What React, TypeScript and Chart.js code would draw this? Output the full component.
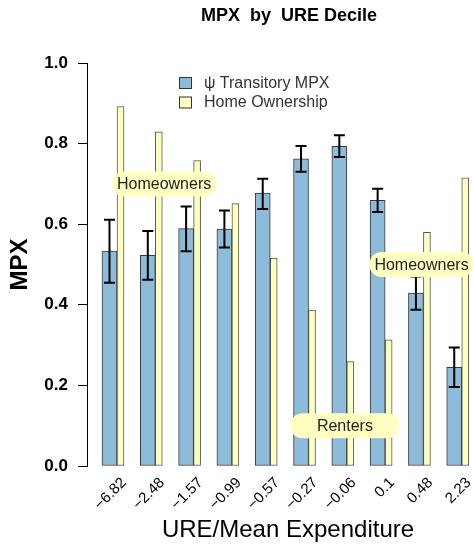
import React, { useEffect, useRef } from "react";
import { Chart, registerables } from "chart.js";

Chart.register(...registerables);

// ---------- data ----------
const categories = ["−6.82", "−2.48", "−1.57", "−0.99", "−0.57", "−0.27", "−0.06", "0.1", "0.48", "2.23"];
const mpxValues = [0.533, 0.523, 0.589, 0.588, 0.677, 0.762, 0.793, 0.659, 0.429, 0.245];
const mpxLower = [0.455, 0.462, 0.533, 0.542, 0.638, 0.730, 0.767, 0.630, 0.388, 0.196];
const mpxUpper = [0.611, 0.583, 0.644, 0.634, 0.713, 0.794, 0.821, 0.688, 0.470, 0.294];
const homeOwnership = [0.892, 0.829, 0.758, 0.651, 0.516, 0.387, 0.259, 0.313, 0.580, 0.715];
const yTicks = [0, 0.2, 0.4, 0.6, 0.8, 1.0];
const seriesNames = ["ψ Transitory MPX", "Home Ownership"];
const annotationTexts = ["Homeowners", "Homeowners", "Renters"];
// annotation anchors in data units (category index, MPX value)
const annotationX = [1.23, 7.95, 5.95];
const annotationY = [0.70, 0.50, 0.10];

const TITLE = "MPX  by  URE Decile";
const X_TITLE = "URE/Mean Expenditure";
const Y_TITLE = "MPX";

const FONT = "'Liberation Sans', Arial, Helvetica, sans-serif";
const BLUE = "#8DBBDA";
const YELLOW = "#FFFFC0";
const NOTE_BG = "#FFFFC2";

const overlay = {
  id: "overlay",
  afterDatasetsDraw(chart: any) {
    const ctx = chart.ctx as CanvasRenderingContext2D;
    const xs = chart.scales.x;
    const ys = chart.scales.y;
    const meta = chart.getDatasetMeta(0);
    ctx.save();
    // error bars
    ctx.strokeStyle = "#000";
    ctx.lineWidth = 2;
    meta.data.forEach((el: any, i: number) => {
      const x = el.x;
      const yLo = ys.getPixelForValue(mpxLower[i]);
      const yHi = ys.getPixelForValue(mpxUpper[i]);
      const cap = 5.5;
      ctx.beginPath();
      ctx.moveTo(x, yLo);
      ctx.lineTo(x, yHi);
      ctx.moveTo(x - cap, yLo);
      ctx.lineTo(x + cap, yLo);
      ctx.moveTo(x - cap, yHi);
      ctx.lineTo(x + cap, yHi);
      ctx.stroke();
    });
    // annotations
    ctx.font = `16px ${FONT}`;
    ctx.textAlign = "center";
    ctx.textBaseline = "middle";
    annotationTexts.forEach((t, i) => {
      const cx = xs.getPixelForValue(annotationX[i]);
      const cy = ys.getPixelForValue(annotationY[i]);
      const w = t === "Renters" ? 109 : 104;
      const h = 25;
      ctx.fillStyle = NOTE_BG;
      ctx.beginPath();
      (ctx as any).roundRect(cx - w / 2, cy - h / 2, w, h, 12);
      ctx.fill();
      ctx.fillStyle = "#222";
      ctx.fillText(t, cx, cy + 1);
    });
    // legend
    const colors = [BLUE, YELLOW];
    ctx.textAlign = "left";
    seriesNames.forEach((name, i) => {
      const ty = 82.5 + i * 19.5;
      ctx.fillStyle = colors[i];
      ctx.fillRect(179.5, ty - 5, 12, 11);
      ctx.strokeStyle = "#333";
      ctx.lineWidth = 1;
      ctx.strokeRect(179.5, ty - 5, 12, 11);
      ctx.fillStyle = "#333";
      ctx.font = `16px ${FONT}`;
      ctx.fillText(name, 204, ty + 1);
    });
    // main title and x-axis title (centred on R's plot region)
    ctx.fillStyle = "#000";
    ctx.font = `bold 18px ${FONT}`;
    ctx.textAlign = "center";
    ctx.fillText(TITLE, 289, 16);
    ctx.font = `24px ${FONT}`;
    ctx.fillText(X_TITLE, 288, 530);
    ctx.restore();
  },
};

export default function App() {
  const ref = useRef<HTMLCanvasElement | null>(null);
  useEffect(() => {
    document.body.style.margin = "0";
    const canvas = ref.current!;
    const chart = new Chart(canvas, {
      type: "bar",
      data: {
        datasets: [
          {
            label: seriesNames[0],
            data: mpxValues.map((v, i) => ({ x: i, y: v })),
            backgroundColor: BLUE,
            borderColor: "#3a3a3a",
            borderWidth: 1,
            borderSkipped: false,
            barThickness: 15,
            clip: false,
          } as any,
          {
            label: seriesNames[1],
            data: homeOwnership.map((v, i) => ({ x: i, y: v })),
            backgroundColor: YELLOW,
            borderColor: "#555",
            borderWidth: 1,
            borderSkipped: false,
            barThickness: 7,
            clip: false,
          } as any,
        ],
      },
      options: {
        animation: false,
        responsive: false,
        devicePixelRatio: 1,
        layout: { padding: { top: 63, right: 0, left: 0, bottom: 0 } },
        plugins: {
          legend: { display: false },
          tooltip: { enabled: false },
          title: { display: false },
        },
        scales: {
          x: {
            type: "linear",
            offset: false,
            min: -0.783,
            max: 9.32,
            afterBuildTicks: (s: any) => {
              s.ticks = categories.map((_, i) => ({ value: i }));
            },
            afterFit: (s: any) => {
              s.height = 78;
              s.paddingLeft = 0;
              s.paddingRight = 0;
            },
            ticks: {
              callback: (v: any) => categories[Math.round(Number(v))],
              minRotation: 45,
              maxRotation: 45,
              autoSkip: false,
              labelOffset: 7,
              padding: 0,
              color: "#000",
              font: { family: FONT, size: 15 },
            },
            grid: { display: false },
            border: { display: false },
            title: { display: false },
          } as any,
          y: {
            min: 0,
            max: 1,
            afterBuildTicks: (s: any) => {
              s.ticks = yTicks.map((v) => ({ value: v }));
            },
            afterFit: (s: any) => {
              s.width = 87;
              s.paddingTop = 0;
              s.paddingBottom = 0;
            },
            ticks: {
              callback: (v: any) => Number(v).toFixed(1),
              color: "#000",
              padding: 10,
              font: { family: FONT, size: 17, weight: "bold" },
            },
            grid: {
              drawOnChartArea: false,
              drawTicks: true,
              tickLength: 9,
              color: "#000",
              lineWidth: 1,
            },
            border: { display: true, color: "#000", width: 1 },
            title: {
              display: true,
              text: Y_TITLE,
              color: "#000",
              font: { family: FONT, size: 24, weight: "bold" },
              padding: { top: 6, bottom: 0 },
            },
          } as any,
        },
      } as any,
      plugins: [overlay],
    });
    return () => chart.destroy();
  }, []);
  return (
    <div style={{ width: 474, height: 544 }}>
      <canvas ref={ref} width={474} height={544} style={{ display: "block", width: 474, height: 544 }} />
    </div>
  );
}
